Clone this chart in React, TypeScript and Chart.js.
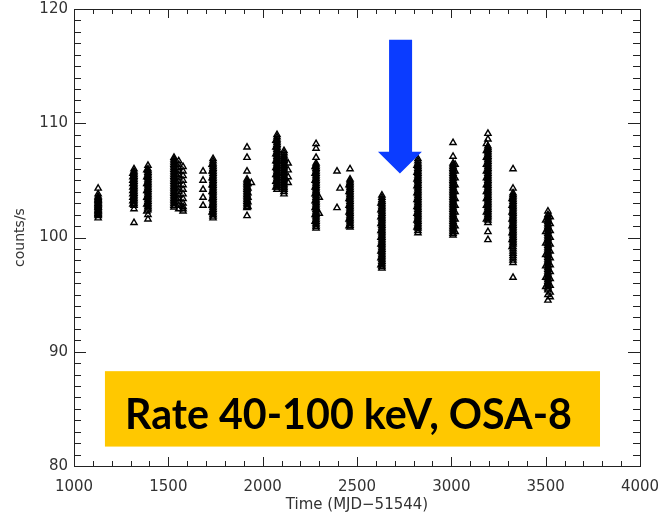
import React, { useEffect, useRef } from "react";
import { Chart, registerables } from "chart.js";

Chart.register(...registerables);

// Axis settings
const xMin = 1000;
const xMax = 4000;
const xMajorStep = 500;
const xMinorStep = 100;
const yMin = 80;
const yMax = 120;
const yMajorStep = 10;
const yMinorStep = 1;
const xTitle = "Time (MJD\u221251544)";
const yTitle = "counts/s";
const bannerText = "Rate 40-100 keV, OSA-8";

// Observation columns: MJD of each column and its count rates
const c1128 = [104.3, 103.8, 103.6, 103.5, 103.4, 103.3, 103.2, 103.1, 103.0, 102.9, 102.8, 102.7, 102.6, 102.5, 102.4, 102.3, 102.2, 102.1, 102.0, 101.9, 101.7, 103.25, 102.95, 102.65, 102.35, 102.05];
const c1312 = [105.6, 105.3, 105.0, 104.7, 104.4, 104.1, 103.8, 103.5, 103.2, 102.9];
const c1318 = [106.0, 105.8, 105.65, 105.5, 105.35, 105.2, 105.05, 104.9, 104.75, 104.6, 104.45, 104.3, 104.15, 104.0, 103.85, 103.7, 103.55, 103.4, 103.25, 103.1, 102.95, 102.8, 102.5, 101.3];
const c1386 = [105.9, 105.3, 104.7, 104.1, 103.5, 102.9, 102.3];
const c1392 = [106.3, 106.0, 105.85, 105.7, 105.55, 105.4, 105.25, 105.1, 104.95, 104.8, 104.65, 104.5, 104.35, 104.2, 104.05, 103.9, 103.75, 103.6, 103.45, 103.3, 103.15, 103.0, 102.85, 102.7, 102.55, 102.4, 102.0, 101.6];
const c1530 = [107.0, 106.85, 106.7, 106.55, 106.4, 106.25, 106.1, 105.95, 105.8, 105.65, 105.5, 105.35, 105.2, 105.05, 104.9, 104.75, 104.6, 104.45, 104.3, 104.15, 104.0, 103.85, 103.7, 103.55, 103.4, 103.25, 103.1, 102.95, 102.8, 102.65];
const c1555 = [106.7, 106.4, 106.1, 105.8, 105.5, 105.2, 104.9, 104.6, 104.3, 104.0, 103.7, 103.4, 103.1, 102.8, 102.5];
const c1578 = [106.2, 105.8, 105.4, 105.0, 104.6, 104.2, 103.8, 103.4, 103.0, 102.7, 102.5, 102.3];
const c1684 = [105.8, 105.0, 104.2, 103.5, 102.8];
const c1732 = [106.4, 105.8, 105.2, 104.6, 104.0, 103.4, 102.8, 102.2];
const c1737 = [106.9, 106.7, 106.5, 106.35, 106.2, 106.05, 105.9, 105.75, 105.6, 105.45, 105.3, 105.15, 105.0, 104.85, 104.7, 104.55, 104.4, 104.25, 104.1, 103.95, 103.8, 103.65, 103.5, 103.35, 103.2, 103.05, 102.9, 102.75, 102.6, 102.45, 102.3, 102.15, 102.0, 101.85, 101.7];
const c1917 = [107.9, 107.0, 105.8, 105.1, 104.95, 104.8, 104.65, 104.5, 104.35, 104.2, 104.05, 103.9, 103.75, 103.6, 103.45, 103.3, 103.15, 103.0, 102.85, 102.7, 102.6, 101.9];
const c1922 = [104.7, 104.3, 103.9, 103.5, 103.1, 102.7];
const c1940 = [104.8];
const c2070 = [108.5, 107.9, 107.3, 106.7, 106.1, 105.5, 104.9, 104.4];
const c2076 = [109.0, 108.8, 108.6, 108.45, 108.3, 108.15, 108.0, 107.85, 107.7, 107.55, 107.4, 107.25, 107.1, 106.95, 106.8, 106.65, 106.5, 106.35, 106.2, 106.05, 105.9, 105.75, 105.6, 105.45, 105.3, 105.15, 105.0, 104.85, 104.7, 104.55, 104.4, 104.2];
const c2113 = [107.6, 107.4, 107.2, 107.05, 106.9, 106.75, 106.6, 106.45, 106.3, 106.15, 106.0, 105.85, 105.7, 105.55, 105.4, 105.25, 105.1, 104.95, 104.8, 104.65, 104.5, 104.35, 104.2, 104.0, 103.8];
const c2135 = [106.5, 105.9, 105.3, 104.8];
const c2278 = [106.2, 105.6, 105.0, 104.4, 103.8, 103.2, 102.6, 102.0, 101.4];
const c2283 = [108.2, 107.8, 107.0, 106.5, 106.35, 106.2, 106.05, 105.9, 105.75, 105.6, 105.45, 105.3, 105.15, 105.0, 104.85, 104.7, 104.55, 104.4, 104.25, 104.1, 103.95, 103.8, 103.65, 103.5, 103.35, 103.2, 103.05, 102.9, 102.75, 102.6, 102.45, 102.3, 102.15, 102.0, 101.85, 101.7, 101.55, 101.4, 101.25, 101.1, 100.95, 100.8];
const c2300 = [103.5, 102.1];
const c2394 = [105.8, 102.6];
const c2410 = [104.3];
const c2458 = [104.6, 104.0, 103.4, 102.8, 102.2, 101.6, 101.0];
const c2463 = [106.0, 105.1, 104.95, 104.8, 104.65, 104.5, 104.35, 104.2, 104.05, 103.9, 103.75, 103.6, 103.45, 103.3, 103.15, 103.0, 102.85, 102.7, 102.55, 102.4, 102.25, 102.1, 101.95, 101.8, 101.65, 101.5, 101.35, 101.2, 101.05, 100.9];
const c2627 = [103.0, 102.4, 101.8, 101.2, 100.6, 100.0, 99.4, 98.8, 98.2, 97.6];
const c2632 = [103.7, 103.5, 103.3, 103.15, 103.0, 102.85, 102.7, 102.55, 102.4, 102.25, 102.1, 101.95, 101.8, 101.65, 101.5, 101.35, 101.2, 101.05, 100.9, 100.75, 100.6, 100.45, 100.3, 100.15, 100.0, 99.85, 99.7, 99.55, 99.4, 99.25, 99.1, 98.95, 98.8, 98.65, 98.5, 98.35, 98.2, 98.05, 97.9, 97.75, 97.6, 97.45, 97.3];
const c2818 = [106.3, 105.7, 105.1, 104.5, 103.9, 103.3, 102.7, 102.1, 101.5, 100.9];
const c2823 = [106.9, 106.7, 106.5, 106.35, 106.2, 106.05, 105.9, 105.75, 105.6, 105.45, 105.3, 105.15, 105.0, 104.85, 104.7, 104.55, 104.4, 104.25, 104.1, 103.95, 103.8, 103.65, 103.5, 103.35, 103.2, 103.05, 102.9, 102.75, 102.6, 102.45, 102.3, 102.15, 102.0, 101.85, 101.7, 101.55, 101.4, 101.25, 101.1, 100.95, 100.8, 100.6, 100.4];
const c3009 = [108.3, 107.1, 106.5, 106.35, 106.2, 106.05, 105.9, 105.75, 105.6, 105.45, 105.3, 105.15, 105.0, 104.85, 104.7, 104.55, 104.4, 104.25, 104.1, 103.95, 103.8, 103.65, 103.5, 103.35, 103.2, 103.05, 102.9, 102.75, 102.6, 102.45, 102.3, 102.15, 102.0, 101.85, 101.7, 101.55, 101.4, 101.25, 101.1, 100.95, 100.8, 100.65, 100.5, 100.35, 100.2];
const c3020 = [106.4, 105.8, 105.2, 104.6, 104.0, 103.4, 102.8, 102.2, 101.6, 101.0, 100.5];
const c3186 = [108.2, 107.6, 107.0, 106.4, 105.8, 105.2, 104.6, 104.0, 103.4, 102.8, 102.2, 101.6];
const c3194 = [109.1, 108.6, 108.0, 107.85, 107.7, 107.55, 107.4, 107.25, 107.1, 106.95, 106.8, 106.65, 106.5, 106.35, 106.2, 106.05, 105.9, 105.75, 105.6, 105.45, 105.3, 105.15, 105.0, 104.85, 104.7, 104.55, 104.4, 104.25, 104.1, 103.95, 103.8, 103.65, 103.5, 103.35, 103.2, 103.05, 102.9, 102.75, 102.6, 102.45, 102.3, 102.15, 102.0, 101.85, 101.7, 101.5, 101.3, 100.5, 99.8];
const c3322 = [103.4, 102.8, 102.2, 101.6, 101.0, 100.4, 99.8, 99.2];
const c3327 = [106.0, 104.3, 103.9, 103.75, 103.6, 103.45, 103.3, 103.15, 103.0, 102.85, 102.7, 102.55, 102.4, 102.25, 102.1, 101.95, 101.8, 101.65, 101.5, 101.35, 101.2, 101.05, 100.9, 100.75, 100.6, 100.45, 100.3, 100.15, 100.0, 99.85, 99.7, 99.55, 99.4, 99.2, 99.0, 98.8, 98.6, 98.4, 98.2, 98.0, 97.8, 96.5];
const c3500 = [101.5, 100.5, 99.5, 98.5, 97.5, 96.5, 95.7];
const c3512 = [102.3, 102.0, 101.85, 101.7, 101.55, 101.4, 101.25, 101.1, 100.95, 100.8, 100.65, 100.5, 100.35, 100.2, 100.05, 99.9, 99.75, 99.6, 99.45, 99.3, 99.15, 99.0, 98.85, 98.7, 98.55, 98.4, 98.25, 98.1, 97.95, 97.8, 97.65, 97.5, 97.35, 97.2, 97.05, 96.9, 96.75, 96.6, 96.45, 96.3, 96.15, 96.0, 95.85, 95.7, 95.55, 95.4, 95.0, 94.5];
const c3524 = [101.8, 101.2, 100.6, 100.0, 99.4, 98.8, 98.2, 97.6, 97.0, 96.4, 95.8, 95.2, 94.8];

const colX = [
  1128, 1312, 1318, 1386, 1392, 1530, 1555, 1578, 1684, 1732,
  1737, 1917, 1922, 1940, 2070, 2076, 2113, 2135, 2278, 2283,
  2300, 2394, 2410, 2458, 2463, 2627, 2632, 2818, 2823, 3009,
  3020, 3186, 3194, 3322, 3327, 3500, 3512, 3524,
];
const colY = [
  c1128, c1312, c1318, c1386, c1392, c1530, c1555, c1578, c1684, c1732,
  c1737, c1917, c1922, c1940, c2070, c2076, c2113, c2135, c2278, c2283,
  c2300, c2394, c2410, c2458, c2463, c2627, c2632, c2818, c2823, c3009,
  c3020, c3186, c3194, c3322, c3327, c3500, c3512, c3524,
];

// Overlay shapes, in data units
const bannerBox = { x0: 1164, x1: 3788, y0: 88.3, y1: 81.7 };
const arrowShape = { x0: 2670, x1: 2792, hx0: 2611, hx1: 2844, yTop: 117.3, yHead: 107.5, yTip: 105.6 };

const frameColor = "#222222";

const idlAxesPlugin = {
  id: "idlAxes",
  afterDatasetsDraw(chart: any) {
    const { ctx, chartArea: a, scales } = chart;
    const xs = scales.x;
    const ys = scales.y;
    ctx.save();

    // banner
    const bx0 = xs.getPixelForValue(bannerBox.x0);
    const bx1 = xs.getPixelForValue(bannerBox.x1);
    const by0 = ys.getPixelForValue(bannerBox.y0);
    const by1 = ys.getPixelForValue(bannerBox.y1);
    ctx.fillStyle = "#FFC800";
    ctx.fillRect(bx0, by0, bx1 - bx0, by1 - by0);
    let size = 46;
    ctx.font = `bold ${size}px Lato`;
    const w = ctx.measureText(bannerText).width;
    size = size * 447 / w;
    ctx.font = `bold ${size}px Lato`;
    ctx.fillStyle = "#000000";
    ctx.textAlign = "center";
    ctx.textBaseline = "alphabetic";
    ctx.fillText(bannerText, (bx0 + bx1) / 2 - 4, by0 + 58);

    // arrow
    const sx0 = xs.getPixelForValue(arrowShape.x0);
    const sx1 = xs.getPixelForValue(arrowShape.x1);
    const hx0 = xs.getPixelForValue(arrowShape.hx0);
    const hx1 = xs.getPixelForValue(arrowShape.hx1);
    const yTop = ys.getPixelForValue(arrowShape.yTop);
    const yHead = ys.getPixelForValue(arrowShape.yHead);
    const yTip = ys.getPixelForValue(arrowShape.yTip);
    ctx.fillStyle = "#0B3CFF";
    ctx.beginPath();
    ctx.moveTo(sx0, yTop);
    ctx.lineTo(sx1, yTop);
    ctx.lineTo(sx1, yHead);
    ctx.lineTo(hx1, yHead);
    ctx.lineTo((hx0 + hx1) / 2, yTip);
    ctx.lineTo(hx0, yHead);
    ctx.lineTo(sx0, yHead);
    ctx.closePath();
    ctx.fill();

    // frame
    ctx.strokeStyle = frameColor;
    ctx.lineWidth = 1;
    ctx.strokeRect(Math.round(a.left) + 0.5, Math.round(a.top) + 0.5, Math.round(a.right - a.left), Math.round(a.bottom - a.top));

    // inward ticks
    ctx.beginPath();
    for (let v = xMin; v <= xMax; v += xMinorStep) {
      const px = Math.round(xs.getPixelForValue(v)) + 0.5;
      const len = v % xMajorStep === 0 ? 9 : 5;
      ctx.moveTo(px, a.bottom);
      ctx.lineTo(px, a.bottom - len);
      ctx.moveTo(px, a.top);
      ctx.lineTo(px, a.top + len);
    }
    for (let v = yMin; v <= yMax; v += yMinorStep) {
      const py = Math.round(ys.getPixelForValue(v)) + 0.5;
      const len = v % yMajorStep === 0 ? 12 : 7;
      ctx.moveTo(a.left, py);
      ctx.lineTo(a.left + len, py);
      ctx.moveTo(a.right, py);
      ctx.lineTo(a.right - len, py);
    }
    ctx.stroke();
    ctx.restore();
  },
};

export default function App() {
  const ref = useRef<HTMLCanvasElement | null>(null);

  useEffect(() => {
    if (!ref.current) return;
    const points: { x: number; y: number }[] = [];
    colX.forEach((x, i) => {
      colY[i].forEach((y) => points.push({ x, y }));
    });
    const tickFont = { family: "DejaVu Sans", size: 15 };
    const chart = new Chart(ref.current, {
      type: "scatter",
      data: {
        datasets: [
          {
            data: points,
            pointStyle: "triangle",
            radius: 3.6,
            borderColor: "#000000",
            backgroundColor: "rgba(0,0,0,0)",
            borderWidth: 1.4,
          },
        ],
      },
      options: {
        animation: false,
        responsive: false,
        events: [],
        layout: { padding: { top: 9, right: 21, left: 0, bottom: 0 } },
        plugins: { legend: { display: false }, tooltip: { enabled: false } },
        scales: {
          x: {
            type: "linear",
            min: xMin,
            max: xMax,
            grid: { display: false, drawTicks: false },
            border: { display: false },
            ticks: { stepSize: xMajorStep, font: tickFont, color: "#333333", padding: 12, maxRotation: 0, autoSkip: false, callback: (v: any) => String(v) },
            title: { display: true, text: xTitle, font: tickFont, color: "#333333", padding: { top: 0, bottom: 1 } },
            afterFit: (s: any) => { s.height = 49; s.paddingLeft = 0; s.paddingRight = 0; },
          },
          y: {
            type: "linear",
            min: yMin,
            max: yMax,
            grid: { display: false, drawTicks: false },
            border: { display: false },
            ticks: { stepSize: yMajorStep, font: tickFont, color: "#333333", padding: 6, autoSkip: false, callback: (v: any) => String(v) },
            title: { display: true, text: yTitle, font: { family: "DejaVu Sans", size: 14 }, color: "#333333", padding: { top: 12, bottom: 0 } },
            afterFit: (s: any) => { s.width = 74; s.paddingTop = 0; s.paddingBottom = 0; },
          },
        },
      },
      plugins: [idlAxesPlugin],
    });
    return () => chart.destroy();
  }, []);

  return (
    <div style={{ position: "fixed", left: 0, top: 0, width: 661, height: 515, background: "#ffffff" }}>
      <canvas ref={ref} width={661} height={515} style={{ display: "block" }} />
    </div>
  );
}
